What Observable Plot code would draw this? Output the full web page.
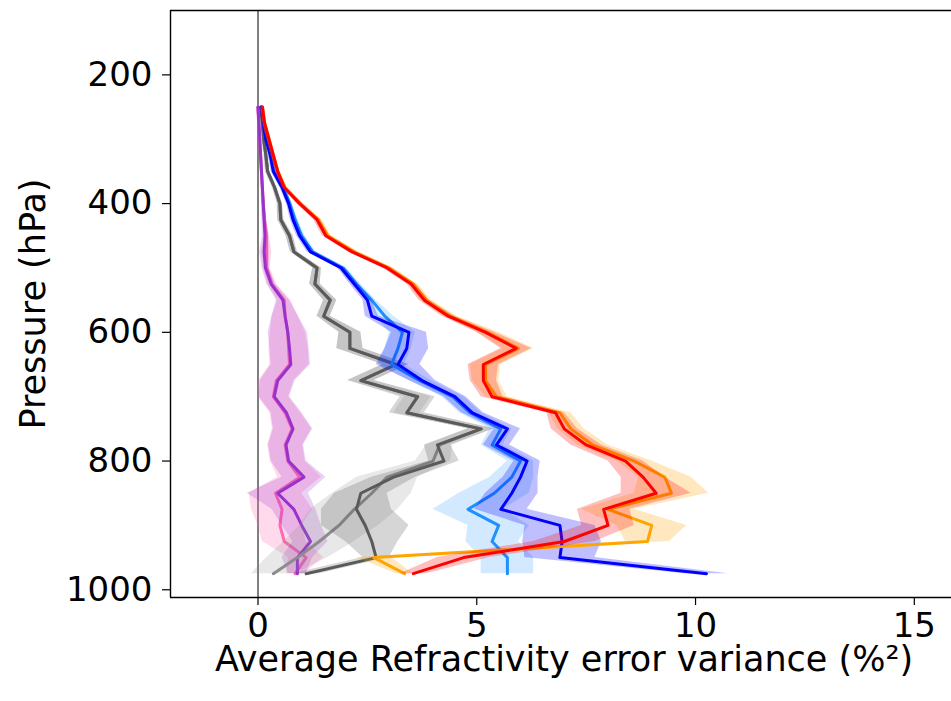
<!DOCTYPE html>
<html>
<head>
<meta charset="utf-8">
<script src="https://cdn.jsdelivr.net/npm/d3@7"></script>
<script src="https://cdn.jsdelivr.net/npm/@observablehq/plot@0.6"></script>
<style>
  html, body { margin: 0; padding: 0; background: #fff; }
  #chart { width: 951px; height: 701px; overflow: hidden; }
</style>
</head>
<body>
<div id="chart"></div>
<script>
// Pressure levels (hPa)
const levels = [250,275,300,325,350,375,400,425,450,475,500,525,550,575,600,625,650,675,700,725,750,775,800,825,850,875,900,925,950,975];

// Mean refractivity error variance (%^2) and half-width of shaded band
const redVals      = [0.1,0.15,0.25,0.35,0.45,0.6,0.95,1.35,1.55,2.15,2.95,3.5,3.8,4.35,5.2,5.9,5.15,5.15,5.35,6.8,7.0,7.5,8.4,8.8,9.1,7.9,8.0,7.0,4.7,3.55];
const redSpread    = [0.05,0.05,0.05,0.05,0.05,0.05,0.07,0.08,0.08,0.1,0.1,0.1,0.12,0.15,0.2,0.35,0.35,0.3,0.25,0.2,0.3,0.35,0.4,0.5,0.8,0.6,0.6,0.7,0.6,0.3];
const orangeVals   = [0.1,0.15,0.25,0.35,0.45,0.62,0.97,1.38,1.6,2.2,3.0,3.55,3.85,4.4,5.25,5.95,5.2,5.2,5.45,6.9,7.15,7.65,8.6,9.3,9.45,8.0,9.0,8.9,2.65,3.35];
const orangeSpread = [0.05,0.05,0.05,0.05,0.05,0.05,0.07,0.08,0.08,0.1,0.1,0.1,0.12,0.15,0.25,0.35,0.35,0.3,0.25,0.25,0.3,0.35,0.4,0.6,0.85,0.6,0.8,0.5,0.4,0.2];
const blueVals     = [0.07,0.12,0.18,0.28,0.35,0.55,0.7,0.8,0.95,1.2,1.9,2.2,2.5,2.6,3.45,3.4,3.2,3.75,4.5,4.9,5.7,5.45,6.15,6.0,5.8,5.55,6.9,6.95,6.9,10.25];
const blueSpread   = [0.03,0.03,0.04,0.05,0.05,0.05,0.05,0.06,0.07,0.08,0.08,0.1,0.1,0.15,0.4,0.5,0.5,0.3,0.25,0.25,0.3,0.3,0.3,0.4,0.6,0.6,0.8,0.9,0.8,0.5];
const dodgerVals   = [0.08,0.13,0.2,0.3,0.38,0.58,0.73,0.85,1.0,1.25,1.95,2.25,2.6,2.9,3.3,3.2,3.05,3.7,4.45,4.85,5.55,5.35,6.0,5.8,5.4,4.8,5.5,5.35,5.7,5.7];
const dodgerSpread = [0.03,0.03,0.04,0.05,0.05,0.05,0.05,0.06,0.07,0.08,0.08,0.1,0.1,0.2,0.3,0.3,0.3,0.25,0.25,0.25,0.25,0.25,0.3,0.5,0.8,0.8,0.7,0.6,0.6,0.6];
const dimgrayVals  = [0.07,0.1,0.13,0.18,0.22,0.38,0.5,0.52,0.72,0.82,1.35,1.3,1.65,1.5,2.1,2.1,3.15,2.35,3.65,3.4,5.1,4.1,4.25,3.1,2.35,2.25,2.45,2.6,2.7,1.1];
const dimgraySpread= [0.03,0.03,0.04,0.04,0.05,0.05,0.06,0.07,0.08,0.08,0.1,0.12,0.15,0.15,0.25,0.3,0.3,0.3,0.4,0.4,0.3,0.3,0.35,0.5,0.6,0.8,1.0,0.6,0.3,0.3];
const grayVals     = [0.07,0.1,0.13,0.18,0.22,0.38,0.5,0.52,0.72,0.82,1.35,1.3,1.65,1.5,2.1,2.1,3.15,2.35,3.65,3.4,5.1,4.15,4.0,2.95,2.6,2.2,1.85,1.4,0.9,0.35];
const graySpread   = [0.03,0.03,0.04,0.04,0.05,0.05,0.06,0.07,0.08,0.08,0.1,0.12,0.15,0.15,0.25,0.3,0.3,0.3,0.3,0.3,0.3,0.3,0.4,0.7,0.9,1.0,0.9,0.8,0.7,0.5];
const purpleVals   = [0.0,0.02,0.04,0.06,0.08,0.1,0.12,0.14,0.16,0.14,0.17,0.3,0.57,0.62,0.68,0.72,0.75,0.45,0.37,0.65,0.8,0.64,0.7,1.05,0.45,0.82,1.0,1.2,0.9,0.9];
const purpleSpread = [0.03,0.03,0.03,0.03,0.03,0.03,0.04,0.05,0.06,0.1,0.08,0.1,0.15,0.3,0.45,0.45,0.45,0.4,0.35,0.35,0.45,0.4,0.4,0.5,0.7,0.5,0.45,0.4,0.35,0.2];
const pinkVals     = [0.0,0.02,0.04,0.06,0.08,0.1,0.12,0.15,0.2,0.2,0.2,0.32,0.6,0.62,0.68,0.7,0.72,0.42,0.35,0.62,0.78,0.62,0.68,0.95,0.4,0.55,0.5,0.6,1.1,0.85];
const pinkSpread   = [0.03,0.03,0.03,0.03,0.03,0.03,0.04,0.05,0.06,0.12,0.08,0.1,0.15,0.3,0.4,0.45,0.45,0.4,0.35,0.35,0.45,0.4,0.4,0.5,0.6,0.7,0.5,0.5,0.4,0.2];

// Axis ticks and labels
const xTicks = [0, 5, 10, 15];
const yTicks = [200, 400, 600, 800, 1000];
const xLabel = "Average Refractivity error variance (%²)";
const yLabel = "Pressure (hPa)";

const series = [
  {values: pinkVals,    spread: pinkSpread,    color: "#ff69b4", alpha: 0.25},
  {values: purpleVals,  spread: purpleSpread,  color: "#9932cc", alpha: 0.22},
  {values: grayVals,    spread: graySpread,    color: "#8c8c8c", alpha: 0.2},
  {values: dimgrayVals, spread: dimgraySpread, color: "#5a5a5a", alpha: 0.25},
  {values: dodgerVals,  spread: dodgerSpread,  color: "#1e90ff", alpha: 0.2},
  {values: blueVals,    spread: blueSpread,    color: "#0000ff", alpha: 0.25},
  {values: orangeVals,  spread: orangeSpread,  color: "#ffa500", alpha: 0.25},
  {values: redVals,     spread: redSpread,     color: "#ff0000", alpha: 0.25}
];

const marks = [];
for (const s of series) {
  const rows = levels.map((p, i) => ({p, v: s.values[i], lo: s.values[i] - s.spread[i], hi: s.values[i] + s.spread[i]}));
  marks.push(Plot.areaX(rows, {y: "p", x1: "lo", x2: "hi", fill: s.color, fillOpacity: s.alpha}));
  marks.push(Plot.line(rows, {x: "v", y: "p", stroke: s.color, strokeWidth: 3}));
}

const chart = Plot.plot({
  width: 951,
  height: 701,
  marginLeft: 170,
  marginRight: 0,
  marginTop: 10,
  marginBottom: 104,
  style: {fontFamily: "DejaVu Sans", fontSize: "34px", color: "#000", background: "#fff"},
  x: {domain: [-2, 15.85], label: null},
  y: {domain: [100, 1012], reverse: true, label: null},
  marks: [
    Plot.ruleX([0], {stroke: "#000", strokeWidth: 1}),
    ...marks,
    Plot.ruleY([100, 1012], {stroke: "#000", strokeWidth: 1.4}),
    Plot.ruleX([-2], {stroke: "#000", strokeWidth: 1.4}),
    Plot.axisX(xTicks, {tickSize: 8, tickPadding: 7, fontSize: 34, label: null, strokeWidth: 1.2, tickFormat: d => String(d)}),
    Plot.axisY(yTicks, {tickSize: 8, tickPadding: 10, fontSize: 34, label: null, strokeWidth: 1.2, tickFormat: d => String(d)}),
    Plot.text([xLabel], {frameAnchor: "bottom", dx: 3, dy: 62, text: d => d, fontSize: 35, textAnchor: "middle", lineAnchor: "middle", fill: "#000"}),
    Plot.text([yLabel], {frameAnchor: "left", dx: -137, text: d => d, fontSize: 35, rotate: -90, textAnchor: "middle", lineAnchor: "middle", fill: "#000"})
  ]
});
document.getElementById("chart").appendChild(chart);
</script>
</body>
</html>
